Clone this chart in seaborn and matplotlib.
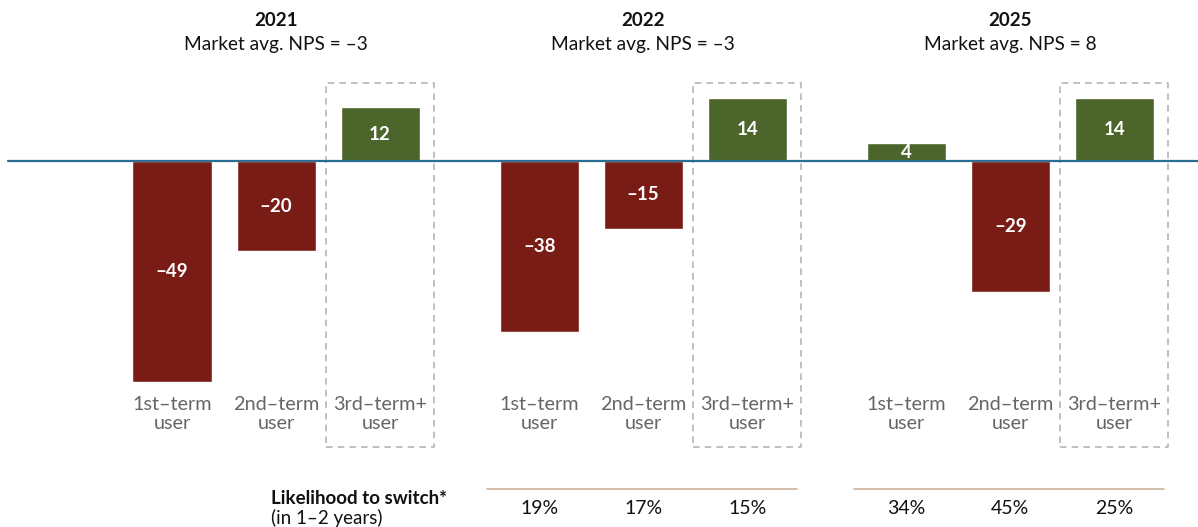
import numpy as np
import pandas as pd
import matplotlib.pyplot as plt
import matplotlib.transforms as mtransforms
import seaborn as sns

# NPS by user tenure, per survey year
years = ["2021", "2022", "2025"]
market_avg = [-3, -3, 8]
segments = ["1st\u2013term\nuser", "2nd\u2013term\nuser", "3rd\u2013term+\nuser"]
nps_2021 = [-49, -20, 12]
nps_2022 = [-38, -15, 14]
nps_2025 = [4, -29, 14]
# likelihood to switch (%) shown for 2022 and 2025
switch_2022 = [19, 17, 15]
switch_2025 = [34, 45, 25]

RED = "#7a1c16"
GREEN = "#4c652b"
AXIS_BLUE = "#2c6d93"
GRAY_TXT = "#666666"
TAN = "#cbb39b"

def fmt(v):
    return str(v).replace("-", "\u2013")

GROUP_STEP = 3.53
rows = []
for g, (yr, vals) in enumerate(zip(years, [nps_2021, nps_2022, nps_2025])):
    for s, v in enumerate(vals):
        rows.append({"year": yr, "seg": s, "pos": g * GROUP_STEP + s, "nps": v,
                     "sign": "pos" if v >= 0 else "neg"})
df = pd.DataFrame(rows)

sns.set_theme(style="white")
plt.rcParams["font.family"] = ["Lato", "DejaVu Sans"]

fig = plt.figure(figsize=(11.98, 5.27), dpi=100)
ax = fig.add_axes([0, 0, 1, 1])

sns.barplot(data=df, x="pos", y="nps", hue="sign", native_scale=True,
            palette={"pos": GREEN, "neg": RED}, saturation=1, width=0.76,
            legend=False, ax=ax, zorder=2)

ax.set_xlim(-1.654, 9.865)
ax.set_ylim(-81.3, 35.8)
ax.axis("off")

# zero line
ax.axhline(0, xmin=8 / 1198, xmax=1, color=AXIS_BLUE, lw=1.6, zorder=3)

# value labels inside bars
for _, r in df.iterrows():
    ax.text(r["pos"], r["nps"] / 2, fmt(r["nps"]), ha="center", va="center",
            color="white", fontsize=13.5, fontweight="bold", zorder=4)

trans = mtransforms.blended_transform_factory(ax.transData, fig.transFigure)

def fy(px):
    return 1 - px / 527

for g, yr in enumerate(years):
    center = g * GROUP_STEP + 1
    ax.text(center, fy(21), yr, transform=trans, ha="center", va="center",
            fontsize=13.5, fontweight="bold", color="#111111")
    ax.text(center, fy(44.5), f"Market avg. NPS = {fmt(market_avg[g])}",
            transform=trans, ha="center", va="center", fontsize=13.8,
            color="#111111")
    for s, lab in enumerate(segments):
        ax.text(g * GROUP_STEP + s, fy(414), lab, transform=trans,
                ha="center", va="center", fontsize=14.3, color=GRAY_TXT,
                linespacing=1.12)
    # dashed highlight box round the 3rd-term+ bar
    x3 = g * GROUP_STEP + 2
    bx0, bx1 = x3 - 0.52, x3 + 0.52
    by0, by1 = fy(447), fy(83)
    ax.plot([bx0, bx1, bx1, bx0, bx0], [by0, by0, by1, by1, by0],
            transform=trans, color="#b5b5b5", lw=1.2, ls=(0, (4, 3)),
            zorder=1, clip_on=False)

# likelihood-to-switch row
ax.text(271 / 1198, fy(498), "Likelihood to switch*", transform=fig.transFigure,
        ha="left", va="center", fontsize=13.5, fontweight="bold", color="#111111")
ax.text(271 / 1198, fy(518), "(in 1\u20132 years)", transform=fig.transFigure,
        ha="left", va="center", fontsize=13.5, color="#111111")
for g, vals in [(1, switch_2022), (2, switch_2025)]:
    left = g * GROUP_STEP - 0.5
    right = g * GROUP_STEP + 2.48
    ax.plot([left, right], [fy(489), fy(489)], transform=trans, color=TAN,
            lw=1.2, clip_on=False)
    for s, v in enumerate(vals):
        ax.text(g * GROUP_STEP + s, fy(508), f"{v}%", transform=trans,
                ha="center", va="center", fontsize=14, color="#111111")

fig.savefig("out.png", dpi=100)
